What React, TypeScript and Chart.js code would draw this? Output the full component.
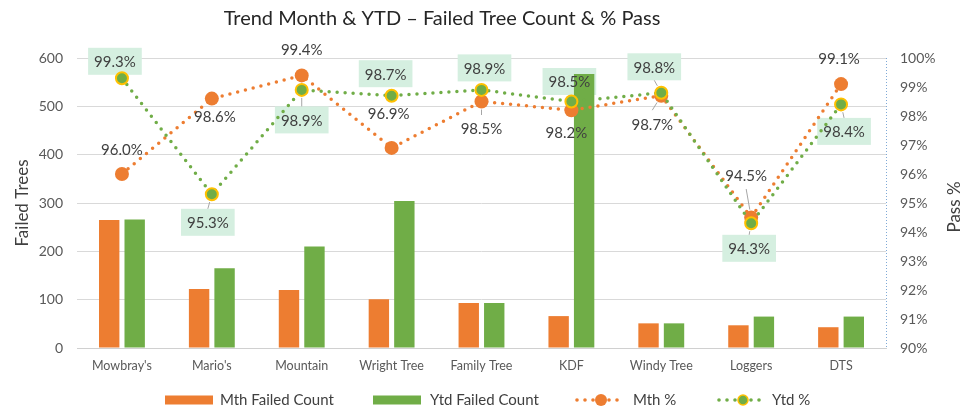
import React, { useEffect, useRef } from "react";
import { Chart, registerables } from "chart.js";

Chart.register(...registerables);

// ---------- DATA ----------
const categories = [
  "Mowbray's",
  "Mario's",
  "Mountain",
  "Wright Tree",
  "Family Tree",
  "KDF",
  "Windy Tree",
  "Loggers",
  "DTS",
];
const mthFailedCount = [265, 122, 120, 101, 93, 66, 51, 47, 43];
const ytdFailedCount = [266, 165, 210, 304, 93, 567, 51, 65, 65];
const mthPassPct = [96.0, 98.6, 99.4, 96.9, 98.5, 98.2, 98.7, 94.5, 99.1];
const ytdPassPct = [99.3, 95.3, 98.9, 98.7, 98.9, 98.5, 98.8, 94.3, 98.4];
const seriesNames = ["Mth Failed Count", "Ytd Failed Count", "Mth %", "Ytd %"];
const chartTitle = "Trend Month & YTD \u2013 Failed Tree Count & % Pass";
const leftAxisTitle = "Failed Trees";
const rightAxisTitle = "Pass %";

// ---------- STYLE / LAYOUT ----------
const ORANGE = "#ed7d31";
const GREEN = "#70ad47";
const GOLD = "#ffc000";
const FONT = "Lato, 'Open Sans', sans-serif";
const TEXT = "#404040";
const TICK = "#595959";
const BOX = "#d5efe0";

// label offsets (dx, dy) from the point, and whether a leader line is drawn
const mthLabelLayout: [number, number, boolean][] = [
  [0, -25, false],
  [3, 18, false],
  [0, -26, false],
  [-3, -35, false],
  [0, 27, true],
  [-5, 22, false],
  [-9, 28, true],
  [-5, -42, true],
  [-2, -26, false],
];
const ytdLabelLayout: [number, number, boolean][] = [
  [-7, -17, false],
  [-4, 28, true],
  [0, 30, true],
  [-6, -22, false],
  [3, -22, false],
  [-2, -20, false],
  [-7, -26, true],
  [-2, 25, true],
  [3, 27, true],
];

const LABEL_FONT = `15px ${FONT}`;

function labelGeom(ctx: any, pt: any, value: number, lay: [number, number, boolean]) {
  const text = value.toFixed(1) + "%";
  ctx.font = LABEL_FONT;
  const w = ctx.measureText(text).width;
  return { text, cx: pt.x + lay[0], cy: pt.y + lay[1], bw: w + 12, bh: 27 };
}

const overlayPlugin = {
  id: "overlay",
  beforeDatasetsDraw(chart: any) {
    const { ctx, chartArea } = chart;
    ctx.save();
    ctx.strokeStyle = "#7fa9d6";
    ctx.lineWidth = 1;
    ctx.setLineDash([1, 2]);
    ctx.beginPath();
    ctx.moveTo(Math.round(chartArea.right) + 0.5, chartArea.top);
    ctx.lineTo(Math.round(chartArea.right) + 0.5, chartArea.bottom);
    ctx.stroke();
    ctx.setLineDash([]);
    // label boxes for Ytd % (behind the series, as in the reference)
    const meta = chart.getDatasetMeta(3);
    meta.data.forEach((pt: any, i: number) => {
      const g = labelGeom(ctx, pt, ytdPassPct[i], ytdLabelLayout[i]);
      ctx.fillStyle = BOX;
      ctx.fillRect(g.cx - g.bw / 2, g.cy - g.bh / 2, g.bw, g.bh);
    });
    ctx.restore();
  },
  afterDatasetsDraw(chart: any) {
    const { ctx, chartArea } = chart;
    ctx.save();
    ctx.textAlign = "center";
    ctx.textBaseline = "middle";

    const drawLabels = (
      dsIndex: number,
      values: number[],
      layout: [number, number, boolean][],
      radius: number
    ) => {
      const meta = chart.getDatasetMeta(dsIndex);
      meta.data.forEach((pt: any, i: number) => {
        const g = labelGeom(ctx, pt, values[i], layout[i]);
        const dy = layout[i][1];
        if (layout[i][2]) {
          const ey = dy > 0 ? g.cy - g.bh / 2 : g.cy + g.bh / 2;
          const ex = g.cx;
          const vx = ex - pt.x;
          const vy = ey - pt.y;
          const len = Math.hypot(vx, vy);
          if (len > radius + 2) {
            ctx.strokeStyle = "#a6a6a6";
            ctx.lineWidth = 1;
            ctx.beginPath();
            ctx.moveTo(pt.x + (vx / len) * (radius + 1), pt.y + (vy / len) * (radius + 1));
            ctx.lineTo(ex, ey);
            ctx.stroke();
          }
        }
        ctx.fillStyle = TEXT;
        ctx.font = LABEL_FONT;
        ctx.fillText(g.text, g.cx, g.cy + 1);
      });
    };
    drawLabels(2, mthPassPct, mthLabelLayout, 7);
    drawLabels(3, ytdPassPct, ytdLabelLayout, 7);

    // Title
    ctx.fillStyle = "#262626";
    ctx.font = `20px ${FONT}`;
    ctx.textBaseline = "alphabetic";
    ctx.fillText(chartTitle, 442, 25);

    // Axis titles
    const midY = (chartArea.top + chartArea.bottom) / 2;
    ctx.font = `17px ${FONT}`;
    ctx.fillStyle = TEXT;
    ctx.textBaseline = "middle";
    ctx.save();
    ctx.translate(23, midY);
    ctx.rotate(-Math.PI / 2);
    ctx.fillText(leftAxisTitle, 0, 0);
    ctx.restore();
    ctx.save();
    ctx.translate(955, midY + 4);
    ctx.rotate(-Math.PI / 2);
    ctx.fillText(rightAxisTitle, 0, 0);
    ctx.restore();

    // Legend
    const ly = 400;
    ctx.font = `15px ${FONT}`;
    ctx.textAlign = "left";
    const xs = [165, 373, 575, 717];
    ctx.fillStyle = ORANGE;
    ctx.fillRect(xs[0], ly - 4.5, 48, 9);
    ctx.fillStyle = GREEN;
    ctx.fillRect(xs[1], ly - 4.5, 48, 9);
    const lineItem = (x0: number, color: string, ytd: boolean) => {
      ctx.fillStyle = color;
      [0, 8, 16, 32, 40].forEach((o) => {
        ctx.beginPath();
        ctx.arc(x0 + 2 + o, ly, 1.8, 0, Math.PI * 2);
        ctx.fill();
      });
      ctx.beginPath();
      ctx.arc(x0 + 26, ly, ytd ? 5 : 6, 0, Math.PI * 2);
      ctx.fillStyle = color;
      ctx.fill();
      if (ytd) {
        ctx.strokeStyle = GOLD;
        ctx.lineWidth = 1.5;
        ctx.stroke();
      }
    };
    lineItem(xs[2], ORANGE, false);
    lineItem(xs[3], GREEN, true);
    ctx.fillStyle = TEXT;
    ctx.fillText(seriesNames[0], xs[0] + 55, ly);
    ctx.fillText(seriesNames[1], xs[1] + 57, ly);
    ctx.fillText(seriesNames[2], xs[2] + 58, ly);
    ctx.fillText(seriesNames[3], xs[3] + 55, ly);
    ctx.restore();
  },
};

export default function App() {
  const canvasRef = useRef<HTMLCanvasElement | null>(null);

  useEffect(() => {
    document.body.style.margin = "0";
    const canvas = canvasRef.current;
    if (!canvas) return;
    const chart = new Chart(canvas, {
      type: "bar",
      data: {
        labels: categories,
        datasets: [
          {
            type: "bar",
            label: seriesNames[0],
            data: mthFailedCount,
            backgroundColor: ORANGE,
            yAxisID: "y",
            order: 2,
            categoryPercentage: 0.567,
            barPercentage: 0.8,
          },
          {
            type: "bar",
            label: seriesNames[1],
            data: ytdFailedCount,
            backgroundColor: GREEN,
            yAxisID: "y",
            order: 2,
            categoryPercentage: 0.567,
            barPercentage: 0.8,
          },
          {
            type: "line",
            label: seriesNames[2],
            data: mthPassPct,
            borderColor: ORANGE,
            backgroundColor: ORANGE,
            borderWidth: 3.5,
            borderDash: [0, 8],
            borderCapStyle: "round",
            pointRadius: 7,
            pointBorderWidth: 0,
            pointBackgroundColor: ORANGE,
            yAxisID: "y2",
            order: 1,
            clip: false,
            tension: 0,
          } as any,
          {
            type: "line",
            label: seriesNames[3],
            data: ytdPassPct,
            borderColor: GREEN,
            backgroundColor: GREEN,
            borderWidth: 3.5,
            borderDash: [0, 8],
            borderCapStyle: "round",
            pointRadius: 6,
            pointBorderWidth: 2,
            pointBorderColor: GOLD,
            pointBackgroundColor: GREEN,
            yAxisID: "y2",
            order: 0,
            clip: false,
            tension: 0,
          } as any,
        ],
      },
      options: {
        responsive: false,
        animation: false,
        layout: { padding: { top: 58, left: 0, right: 0, bottom: 0 } },
        plugins: {
          legend: { display: false },
          title: { display: false },
          tooltip: { enabled: false },
        },
        scales: {
          x: {
            grid: { display: false, drawTicks: false },
            border: { color: "#d0d0d0" },
            ticks: {
              color: TICK,
              font: { family: FONT, size: 12.5 },
              padding: 10,
              maxRotation: 0,
              autoSkip: false,
            },
            afterFit: (s: any) => {
              s.height = 60;
            },
          },
          y: {
            position: "left",
            min: 0,
            max: 600,
            grid: { color: "#d9d9d9", drawTicks: false },
            border: { display: false },
            ticks: {
              stepSize: 100,
              color: TICK,
              font: { family: FONT, size: 14 },
              padding: 14,
            },
            afterFit: (s: any) => {
              s.width = 77;
            },
          },
          y2: {
            position: "right",
            min: 90,
            max: 100,
            grid: { display: false, drawTicks: false },
            border: { display: false },
            ticks: {
              stepSize: 1,
              color: TICK,
              font: { family: FONT, size: 14 },
              padding: 14,
              callback: (v: any) => `${v}%`,
            },
            afterFit: (s: any) => {
              s.width = 84;
            },
          },
        },
      },
      plugins: [overlayPlugin],
    });
    return () => chart.destroy();
  }, []);

  return (
    <div style={{ position: "absolute", left: 0, top: 0, width: 970, height: 408, background: "#fff" }}>
      <canvas ref={canvasRef} width={970} height={408} />
    </div>
  );
}
